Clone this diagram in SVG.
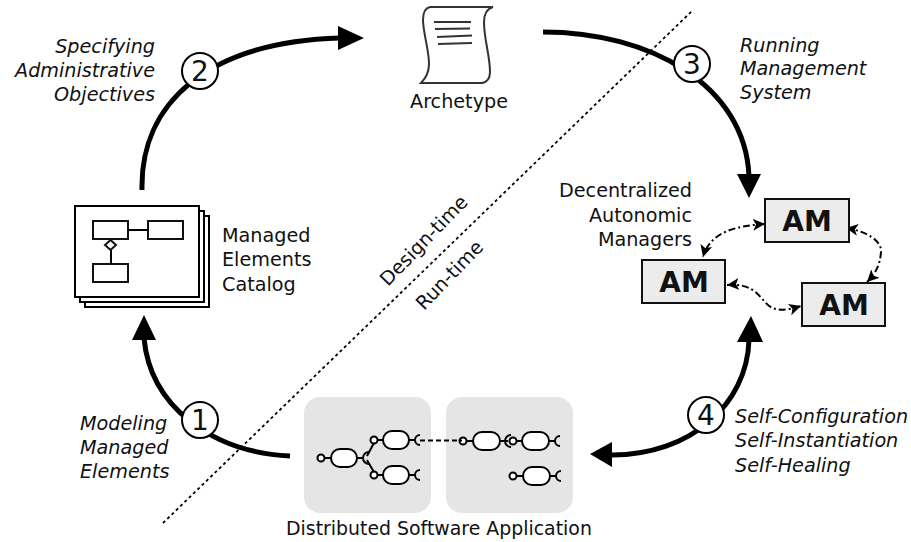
<svg xmlns="http://www.w3.org/2000/svg" width="911" height="542" viewBox="0 0 911 542">
<style>
text{font-family:"DejaVu Sans",sans-serif;font-size:19.200px;fill:#111}
.i{font-style:italic}
.arc{fill:none;stroke:#000;stroke-width:5}
.num{fill:#fff;stroke:#000;stroke-width:2}
.numt{font-size:28px;text-anchor:middle}
.page{fill:#fff;stroke:#000;stroke-width:2}
.box{fill:#fff;stroke:#111;stroke-width:2}
.am{fill:#ececec;stroke:#111;stroke-width:2}
.amt{font-size:28px;font-weight:bold;text-anchor:middle}
.panel{fill:#e5e5e5}
.cap{fill:#fff;stroke:#000;stroke-width:2}
.pin{fill:#fff;stroke:#000;stroke-width:2}
.wire{fill:none;stroke:#000;stroke-width:2}
.dd{fill:none;stroke:#000;stroke-width:2;stroke-dasharray:7 3 2 3;marker-start:url(#s);marker-end:url(#e)}
.scroll{fill:none;stroke:#333;stroke-width:2}
</style>
<defs>
<marker id="e" markerUnits="userSpaceOnUse" markerWidth="14" markerHeight="14" refX="12" refY="7" orient="auto"><path d="M0 1L12 7L0 13L3 7Z"/></marker>
<marker id="s" markerUnits="userSpaceOnUse" markerWidth="14" markerHeight="14" refX="2" refY="7" orient="auto"><path d="M14 1L2 7L14 13L11 7Z"/></marker>
</defs>
<g id="app1">
<rect class="panel" x="304" y="397" width="127" height="116" rx="16"/>
<path class="wire" d="M324 458H331M357 458H364M375 441L367 456M375 474L367 460M378 440H383M378 475H383M409 440H416M409 475H416"/>
<path class="wire" d="M369 452A6 6 0 0 0 369 464M420 435A5 5 0 0 0 420 445M420 470A5 5 0 0 0 420 480"/>
<rect class="cap" x="383" y="431" width="26" height="18" rx="9"/>
<rect class="cap" x="383" y="466" width="26" height="18" rx="9"/>
<rect class="cap" x="331" y="449" width="26" height="18" rx="9"/>
<circle class="pin" cx="321" cy="458" r="3.500"/><circle class="pin" cx="374" cy="440" r="3.500"/><circle class="pin" cx="374" cy="475" r="3.500"/>
</g>
<g id="app2">
<rect class="panel" x="446" y="397" width="127" height="116" rx="16"/>
<path class="wire" d="M467 441H473M500 441H508M517 441H522M549 441H556M517 476H523M550 476H556"/>
<path class="wire" d="M511 435A6 6 0 0 0 511 447M560 436A5 5 0 0 0 560 446M561 471A5 5 0 0 0 561 481"/>
<rect class="cap" x="473" y="432" width="27" height="18" rx="9"/>
<rect class="cap" x="522" y="432" width="27" height="18" rx="9"/>
<rect class="cap" x="523" y="467" width="27" height="18" rx="9"/>
<circle class="pin" cx="463" cy="441" r="3.500"/><circle class="pin" cx="513" cy="441" r="3.500"/><circle class="pin" cx="513" cy="476" r="3.500"/>
</g>
<g id="connectors">
<line x1="163" y1="523" x2="692" y2="11" stroke="#000" stroke-width="1.8" stroke-dasharray="3 3"/>
<path class="arc" d="M142 190C140 105 205 42 340 38"/><path d="M338 26L364 38L338 50Z"/>
<path class="arc" d="M543 32C650 32 745 85 749 176"/><path d="M737 174L749 198L761 174Z"/>
<path class="arc" d="M290 456C210 452 150 405 144 338"/><path d="M132 340L144 315L156 340Z"/>
<path class="arc" d="M749 340C747 405 690 455 612 455"/><path d="M737 342L751 316L763 342Z"/><path d="M612 442L590 454L612 467Z"/>
<path class="dd" d="M765 224C735 226 710 232 703 257"/>
<path class="dd" d="M846 228C865 231 882 240 881 252C880 265 876 273 867 282"/>
<path class="dd" d="M727 285C750 283 757 293 765 302C773 312 785 311 801 306"/>
<line x1="420" y1="440.500" x2="462" y2="440.500" stroke="#000" stroke-width="2" stroke-dasharray="5 3"/>
</g>
<g id="n1"><circle class="num" cx="200" cy="420" r="18"/><text class="numt" x="200" y="430">1</text></g>
<g id="n2"><circle class="num" cx="200" cy="71" r="18"/><text class="numt" x="200" y="81">2</text></g>
<g id="n3"><circle class="num" cx="692" cy="64" r="18"/><text class="numt" x="692" y="74">3</text></g>
<g id="n4"><circle class="num" cx="706" cy="415" r="18"/><text class="numt" x="706" y="425">4</text></g>
<g id="label-specifying"><text x="155" y="53" text-anchor="end" class="i">Specifying</text><text x="155" y="77" text-anchor="end" class="i">Administrative</text><text x="155" y="101" text-anchor="end" class="i">Objectives</text></g>
<g id="label-running"><text x="740" y="52" class="i">Running</text><text x="740" y="75" class="i">Management</text><text x="740" y="99" class="i">System</text></g>
<g id="label-modeling"><text x="80" y="430" class="i">Modeling</text><text x="80" y="454" class="i">Managed</text><text x="80" y="478" class="i">Elements</text></g>
<g id="label-self"><text x="735" y="423" class="i">Self-Configuration</text><text x="735" y="447" class="i">Self-Instantiation</text><text x="735" y="472" class="i">Self-Healing</text></g>
<g id="archetype">
<path class="scroll" d="M430 7H493C486 9 484 14 484 22C484 40 490 55 490 72C490 78 487 82 482 83H421C426 78 429 72 429 64C429 50 423 32 423 20C423 12 425 8 430 7Z"/>
<path class="scroll" d="M434 22L471 22M435 29L470 28.500M437 37L472 35.500M438 44L472 43"/>
<text x="459" y="108" text-anchor="middle">Archetype</text>
</g>
<g id="catalog">
<rect class="page" x="85" y="216" width="124" height="91"/>
<rect class="page" x="80" y="211" width="124" height="91"/>
<rect class="page" x="75" y="206" width="124" height="91"/>
<rect class="box" x="93" y="221" width="35" height="18"/>
<rect class="box" x="148" y="221" width="35" height="18"/>
<rect class="box" x="93" y="264" width="35" height="18"/>
<path class="wire" d="M128 230H148M111 250V264"/>
<path d="M110.500 240L116 245L110.500 250L105 245Z" fill="#fff" stroke="#111" stroke-width="2"/>
<text x="222" y="242">Managed</text><text x="222" y="266">Elements</text><text x="222" y="291">Catalog</text>
</g>
<g id="am-label"><text x="692" y="197" text-anchor="end">Decentralized</text><text x="692" y="222" text-anchor="end">Autonomic</text><text x="692" y="246" text-anchor="end">Managers</text></g>
<g id="am1"><rect class="am" x="765" y="199" width="84" height="43"/><text class="amt" x="807" y="231">AM</text></g>
<g id="am2"><rect class="am" x="642" y="260" width="83" height="43"/><text class="amt" x="684" y="292">AM</text></g>
<g id="am3"><rect class="am" x="802" y="283" width="83" height="43"/><text class="amt" x="844" y="315">AM</text></g>
<text x="286" y="535" style="font-size:18.900px">Distributed Software Application</text>
<text transform="translate(388 287) rotate(-46)">Design-time</text>
<text transform="translate(424 311) rotate(-46)">Run-time</text>
</svg>
